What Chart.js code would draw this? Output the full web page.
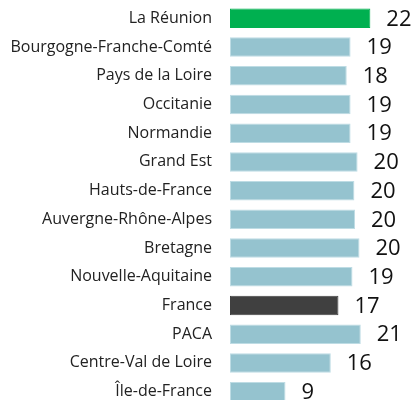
<!DOCTYPE html>
<html>
<head>
<meta charset="utf-8">
<script src="https://cdn.jsdelivr.net/npm/chart.js@4"></script>
<style>
	html, body { margin: 0; padding: 0; background: #fff; overflow: hidden; }
	#wrap { width: 415px; height: 410px; }
</style>
</head>
<body>
<div id="wrap"><canvas id="chart"></canvas></div>
<script>
const regions = ['La Réunion', 'Bourgogne-Franche-Comté', 'Pays de la Loire', 'Occitanie', 'Normandie',
	'Grand Est', 'Hauts-de-France', 'Auvergne-Rhône-Alpes', 'Bretagne', 'Nouvelle-Aquitaine',
	'France', 'PACA', 'Centre-Val de Loire', 'Île-de-France'];
const values = [22.0, 18.9, 18.3, 18.9, 18.9, 20.0, 19.5, 19.6, 20.3, 19.2, 17.0, 20.5, 15.8, 8.7];
const shown_values = ['22', '19', '18', '19', '19', '20', '20', '20', '20', '19', '17', '21', '16', '9'];

const colours = {
	highlight: '#00b050',
	national: '#404040',
	region: '#95c3cf',
	region_edge: '#bedce4'
};

function barColour(name) {
	if (name === 'La Réunion') return colours.highlight;
	if (name === 'France') return colours.national;
	return colours.region;
}

function edgeColour(name) {
	if (name === 'La Réunion' || name === 'France') return barColour(name);
	return colours.region_edge;
}

// writes the rounded value just after the end of each bar
const valueLabels = {
	id: 'valueLabels',
	afterDatasetsDraw(chart) {
		const ctx = chart.ctx;
		const meta = chart.getDatasetMeta(0);
		ctx.save();
		ctx.font = '22px "Open Sans"';
		ctx.fillStyle = '#111';
		ctx.textAlign = 'left';
		ctx.textBaseline = 'middle';
		meta.data.forEach((bar, i) => {
			ctx.fillText(shown_values[i], bar.x + 16, bar.y + 1);
		});
		ctx.restore();
	}
};

new Chart(document.getElementById('chart'), {
	type: 'bar',
	data: {
		labels: regions,
		datasets: [{
			data: values,
			backgroundColor: regions.map(barColour),
			borderColor: regions.map(edgeColour),
			borderWidth: 1,
			borderSkipped: false,
			categoryPercentage: 1,
			barPercentage: 0.68
		}]
	},
	options: {
		indexAxis: 'y',
		responsive: true,
		maintainAspectRatio: false,
		animation: false,
		layout: { padding: { top: 4, bottom: 4, left: 0, right: 0 } },
		plugins: {
			legend: { display: false },
			tooltip: { enabled: false }
		},
		scales: {
			x: {
				display: false,
				min: 0,
				max: 29
			},
			y: {
				grid: { display: false, drawTicks: false },
				border: { display: false },
				ticks: {
					padding: 18,
					color: '#222',
					font: { family: 'Open Sans', size: 16 }
				},
				afterFit(scale) {
					// keep the label column fixed and stop the tick padding from shrinking the rows
					scale.width = 230;
					scale.paddingTop = 0;
					scale.paddingBottom = 0;
				}
			}
		}
	},
	plugins: [valueLabels]
});
</script>
</body>
</html>
